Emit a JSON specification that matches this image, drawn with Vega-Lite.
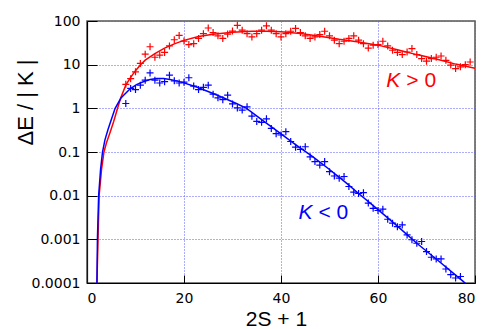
{
  "$schema": "https://vega.github.io/schema/vega-lite/v6.json",
  "autosize": "none",
  "width": 388,
  "height": 262,
  "padding": {"left": 87, "top": 21, "right": 10, "bottom": 46},
  "background": "white",
  "config": {"view": {"stroke": "#555", "strokeWidth": 1.5}},
  "datasets": {
    "curves": [
      {"x": 2, "y": 0.000001, "seg": "r"}, {"x": 2.05, "y": 0.0001, "seg": "r"}, {"x": 2.27, "y": 0.001, "seg": "r"}, {"x": 2.5, "y": 0.01, "seg": "r"}, {"x": 3, "y": 0.04, "seg": "r"}, {"x": 3.5, "y": 0.1, "seg": "r"}, {"x": 4, "y": 0.16, "seg": "r"}, {"x": 4.7, "y": 0.27, "seg": "r"}, {"x": 5.5, "y": 0.5, "seg": "r"}, {"x": 6.3, "y": 1.0, "seg": "r"}, {"x": 7, "y": 1.8, "seg": "r"}, {"x": 8, "y": 3.4, "seg": "r"}, {"x": 9, "y": 5.1, "seg": "r"}, {"x": 10, "y": 7.3, "seg": "r"}, {"x": 11, "y": 9.8, "seg": "r"}, {"x": 12, "y": 12.7, "seg": "r"}, {"x": 14, "y": 18, "seg": "r"}, {"x": 16, "y": 24, "seg": "r"}, {"x": 18, "y": 30, "seg": "r"}, {"x": 20, "y": 36, "seg": "r"}, {"x": 23, "y": 44, "seg": "r"}, {"x": 26, "y": 50, "seg": "r"}, {"x": 30, "y": 55, "seg": "r"}, {"x": 34, "y": 58, "seg": "r"}, {"x": 37, "y": 58.5, "seg": "r"}, {"x": 40, "y": 57, "seg": "r"}, {"x": 44, "y": 52, "seg": "r"}, {"x": 48, "y": 45, "seg": "r"}, {"x": 52, "y": 38, "seg": "r"}, {"x": 56, "y": 33, "seg": "r"}, {"x": 60, "y": 28, "seg": "r"}, {"x": 64, "y": 22, "seg": "r"}, {"x": 68, "y": 17, "seg": "r"}, {"x": 72, "y": 13.5, "seg": "r"}, {"x": 76, "y": 10.3, "seg": "r"}, {"x": 80, "y": 8.3, "seg": "r"},
      {"x": 2, "y": 0.000001, "seg": "b"}, {"x": 2.05, "y": 0.0001, "seg": "b"}, {"x": 2.15, "y": 0.001, "seg": "b"}, {"x": 2.4, "y": 0.01, "seg": "b"}, {"x": 2.8, "y": 0.04, "seg": "b"}, {"x": 3.2, "y": 0.1, "seg": "b"}, {"x": 3.7, "y": 0.19, "seg": "b"}, {"x": 4.3, "y": 0.32, "seg": "b"}, {"x": 5, "y": 0.55, "seg": "b"}, {"x": 5.8, "y": 1.0, "seg": "b"}, {"x": 7, "y": 1.72, "seg": "b"}, {"x": 8.9, "y": 2.8, "seg": "b"}, {"x": 10.2, "y": 3.5, "seg": "b"}, {"x": 11.6, "y": 4.07, "seg": "b"}, {"x": 13, "y": 4.55, "seg": "b"}, {"x": 14.4, "y": 4.8, "seg": "b"}, {"x": 15.8, "y": 4.8, "seg": "b"}, {"x": 17.1, "y": 4.6, "seg": "b"}, {"x": 19.5, "y": 3.98, "seg": "b"}, {"x": 22.6, "y": 3.09, "seg": "b"}, {"x": 26, "y": 2.19, "seg": "b"}, {"x": 28.1, "y": 1.75, "seg": "b"}, {"x": 30.8, "y": 1.29, "seg": "b"}, {"x": 32.9, "y": 1.0, "seg": "b"}, {"x": 36, "y": 0.55, "seg": "b"}, {"x": 39.8, "y": 0.27, "seg": "b"}, {"x": 43, "y": 0.148, "seg": "b"}, {"x": 46.6, "y": 0.0776, "seg": "b"}, {"x": 50, "y": 0.0398, "seg": "b"}, {"x": 53.5, "y": 0.0193, "seg": "b"}, {"x": 56, "y": 0.0112, "seg": "b"}, {"x": 60, "y": 0.00479, "seg": "b"}, {"x": 64, "y": 0.002, "seg": "b"}, {"x": 68, "y": 0.000813, "seg": "b"}, {"x": 72, "y": 0.000355, "seg": "b"}, {"x": 77.5, "y": 0.00011, "seg": "b"}, {"x": 80, "y": 0.000063, "seg": "b"},
      {"x": 0, "y": 0.0095, "seg": "b0"}, {"x": 0, "y": 0.000001, "seg": "b0"}
    ],
    "pts": [
      {"x": 8, "y": 3.55, "s": "pos"}, {"x": 9, "y": 4.79, "s": "pos"}, {"x": 10, "y": 6.84, "s": "pos"}, {"x": 11, "y": 10.7, "s": "pos"}, {"x": 12, "y": 17.4, "s": "pos"}, {"x": 13, "y": 25.7, "s": "pos"}, {"x": 14, "y": 14.8, "s": "pos"}, {"x": 15, "y": 16.6, "s": "pos"}, {"x": 16, "y": 19.1, "s": "pos"}, {"x": 17, "y": 26.9, "s": "pos"}, {"x": 18, "y": 37.2, "s": "pos"}, {"x": 19, "y": 46.8, "s": "pos"}, {"x": 20, "y": 34.7, "s": "pos"}, {"x": 21, "y": 28.8, "s": "pos"}, {"x": 22, "y": 30.2, "s": "pos"}, {"x": 23, "y": 39.8, "s": "pos"}, {"x": 24, "y": 51.3, "s": "pos"}, {"x": 25, "y": 69.2, "s": "pos"}, {"x": 26, "y": 54.3, "s": "pos"}, {"x": 27, "y": 45.7, "s": "pos"}, {"x": 28, "y": 39.8, "s": "pos"}, {"x": 29, "y": 50.1, "s": "pos"}, {"x": 30, "y": 58.9, "s": "pos"}, {"x": 31, "y": 79.4, "s": "pos"}, {"x": 32, "y": 61.7, "s": "pos"}, {"x": 33, "y": 51.3, "s": "pos"}, {"x": 34, "y": 43.2, "s": "pos"}, {"x": 35, "y": 51.3, "s": "pos"}, {"x": 36, "y": 61.7, "s": "pos"}, {"x": 37, "y": 77.6, "s": "pos"}, {"x": 38, "y": 61.7, "s": "pos"}, {"x": 39, "y": 51.3, "s": "pos"}, {"x": 40, "y": 43.2, "s": "pos"}, {"x": 41, "y": 51.3, "s": "pos"}, {"x": 42, "y": 58.2, "s": "pos"}, {"x": 43, "y": 67.6, "s": "pos"}, {"x": 44, "y": 54.3, "s": "pos"}, {"x": 45, "y": 45.7, "s": "pos"}, {"x": 46, "y": 39.8, "s": "pos"}, {"x": 47, "y": 43.2, "s": "pos"}, {"x": 48, "y": 49.0, "s": "pos"}, {"x": 49, "y": 58.2, "s": "pos"}, {"x": 50, "y": 45.7, "s": "pos"}, {"x": 51, "y": 36.3, "s": "pos"}, {"x": 52, "y": 30.2, "s": "pos"}, {"x": 53, "y": 34.4, "s": "pos"}, {"x": 54, "y": 39.8, "s": "pos"}, {"x": 55, "y": 45.7, "s": "pos"}, {"x": 56, "y": 36.3, "s": "pos"}, {"x": 57, "y": 30.2, "s": "pos"}, {"x": 58, "y": 24.0, "s": "pos"}, {"x": 59, "y": 27.9, "s": "pos"}, {"x": 60, "y": 28.8, "s": "pos"}, {"x": 61, "y": 34.4, "s": "pos"}, {"x": 62, "y": 26.9, "s": "pos"}, {"x": 63, "y": 21.4, "s": "pos"}, {"x": 64, "y": 19.1, "s": "pos"}, {"x": 65, "y": 17.0, "s": "pos"}, {"x": 66, "y": 19.5, "s": "pos"}, {"x": 67, "y": 23.4, "s": "pos"}, {"x": 68, "y": 17.0, "s": "pos"}, {"x": 69, "y": 13.8, "s": "pos"}, {"x": 70, "y": 12.0, "s": "pos"}, {"x": 71, "y": 13.8, "s": "pos"}, {"x": 72, "y": 14.8, "s": "pos"}, {"x": 73, "y": 15.8, "s": "pos"}, {"x": 74, "y": 12.6, "s": "pos"}, {"x": 75, "y": 9.77, "s": "pos"}, {"x": 76, "y": 8.13, "s": "pos"}, {"x": 77, "y": 8.91, "s": "pos"}, {"x": 78, "y": 10.0, "s": "pos"}, {"x": 79, "y": 11.5, "s": "pos"},
      {"x": 8, "y": 1.29, "s": "neg"}, {"x": 9, "y": 2.85, "s": "neg"}, {"x": 10, "y": 2.69, "s": "neg"}, {"x": 11, "y": 3.39, "s": "neg"}, {"x": 12, "y": 4.42, "s": "neg"}, {"x": 13, "y": 6.46, "s": "neg"}, {"x": 14, "y": 4.42, "s": "neg"}, {"x": 15, "y": 3.80, "s": "neg"}, {"x": 16, "y": 4.07, "s": "neg"}, {"x": 17, "y": 5.75, "s": "neg"}, {"x": 18, "y": 4.27, "s": "neg"}, {"x": 19, "y": 3.80, "s": "neg"}, {"x": 20, "y": 3.98, "s": "neg"}, {"x": 21, "y": 5.01, "s": "neg"}, {"x": 22, "y": 3.24, "s": "neg"}, {"x": 23, "y": 2.69, "s": "neg"}, {"x": 24, "y": 3.02, "s": "neg"}, {"x": 25, "y": 3.39, "s": "neg"}, {"x": 26, "y": 2.11, "s": "neg"}, {"x": 27, "y": 1.74, "s": "neg"}, {"x": 28, "y": 1.58, "s": "neg"}, {"x": 29, "y": 2.0, "s": "neg"}, {"x": 30, "y": 1.26, "s": "neg"}, {"x": 31, "y": 1.02, "s": "neg"}, {"x": 32, "y": 0.912, "s": "neg"}, {"x": 33, "y": 1.08, "s": "neg"}, {"x": 34, "y": 0.661, "s": "neg"}, {"x": 35, "y": 0.501, "s": "neg"}, {"x": 36, "y": 0.479, "s": "neg"}, {"x": 37, "y": 0.575, "s": "neg"}, {"x": 38, "y": 0.347, "s": "neg"}, {"x": 39, "y": 0.263, "s": "neg"}, {"x": 40, "y": 0.245, "s": "neg"}, {"x": 41, "y": 0.292, "s": "neg"}, {"x": 42, "y": 0.174, "s": "neg"}, {"x": 43, "y": 0.129, "s": "neg"}, {"x": 44, "y": 0.115, "s": "neg"}, {"x": 45, "y": 0.132, "s": "neg"}, {"x": 46, "y": 0.0776, "s": "neg"}, {"x": 47, "y": 0.0603, "s": "neg"}, {"x": 48, "y": 0.0501, "s": "neg"}, {"x": 49, "y": 0.0603, "s": "neg"}, {"x": 50, "y": 0.0355, "s": "neg"}, {"x": 51, "y": 0.0282, "s": "neg"}, {"x": 52, "y": 0.0251, "s": "neg"}, {"x": 53, "y": 0.0275, "s": "neg"}, {"x": 54, "y": 0.0162, "s": "neg"}, {"x": 55, "y": 0.0120, "s": "neg"}, {"x": 56, "y": 0.0112, "s": "neg"}, {"x": 57, "y": 0.0117, "s": "neg"}, {"x": 58, "y": 0.00676, "s": "neg"}, {"x": 59, "y": 0.00513, "s": "neg"}, {"x": 60, "y": 0.00457, "s": "neg"}, {"x": 61, "y": 0.00490, "s": "neg"}, {"x": 62, "y": 0.00288, "s": "neg"}, {"x": 63, "y": 0.00234, "s": "neg"}, {"x": 64, "y": 0.00195, "s": "neg"}, {"x": 65, "y": 0.00214, "s": "neg"}, {"x": 66, "y": 0.00126, "s": "neg"}, {"x": 67, "y": 0.000977, "s": "neg"}, {"x": 68, "y": 0.000813, "s": "neg"}, {"x": 69, "y": 0.000891, "s": "neg"}, {"x": 70, "y": 0.000525, "s": "neg"}, {"x": 71, "y": 0.000389, "s": "neg"}, {"x": 72, "y": 0.000355, "s": "neg"}, {"x": 73, "y": 0.000355, "s": "neg"}, {"x": 74, "y": 0.000209, "s": "neg"}, {"x": 75, "y": 0.000155, "s": "neg"}, {"x": 76, "y": 0.000130, "s": "neg"}, {"x": 77, "y": 0.000141, "s": "neg"}
    ],
    "labels": [
      {"x": 64.6, "y": 3.05, "txt": "K", "kind": "it", "s": "pos"},
      {"x": 64.6, "y": 3.05, "txt": "> 0", "kind": "rm", "s": "pos"},
      {"x": 46.5, "y": 0.00292, "txt": "K", "kind": "it", "s": "neg"},
      {"x": 46.5, "y": 0.00292, "txt": "< 0", "kind": "rm", "s": "neg"}
    ]
  },
  "encoding": {
    "x": {
      "field": "x", "type": "quantitative",
      "scale": {"domain": [0, 80], "nice": false, "zero": false},
      "axis": {
        "values": [0, 20, 40, 60, 80], "title": "2S + 1",
        "titleFont": "Liberation Sans", "titleFontSize": 21, "titleFontWeight": "normal", "titleColor": "#000",
        "titleX": 189, "titleY": 42, "titleBaseline": "alphabetic",
        "labelFont": "DejaVu Sans", "labelFontSize": 14, "labelColor": "#000", "labelPadding": 16,
        "tickSize": -8, "tickColor": "#000", "domainColor": "#000", "domainWidth": 1.2,
        "grid": true, "gridColor": "#5b5bff", "gridDash": [1, 2], "gridWidth": 1
      }
    },
    "y": {
      "field": "y", "type": "quantitative",
      "scale": {"type": "log", "domain": [0.0001, 100], "nice": false},
      "axis": {
        "values": [0.0001, 0.001, 0.01, 0.1, 1, 10, 100], "format": "~g",
        "title": "ΔE / | K |",
        "titleFont": "Liberation Sans", "titleFontSize": 22, "titleFontWeight": "normal", "titleColor": "#000",
        "titleX": -55, "titleY": 81, "titleAngle": -90, "titleAlign": "center", "titleBaseline": "alphabetic",
        "labelFont": "DejaVu Sans", "labelFontSize": 14, "labelColor": "#000", "labelPadding": 17,
        "tickSize": -10, "tickColor": "#000", "domainColor": "#000", "domainWidth": 1.2,
        "grid": true, "gridColor": "#5b5bff", "gridDash": [1, 2], "gridWidth": 1
      }
    }
  },
  "layer": [
    {
      "data": {"name": "curves"},
      "transform": [{"filter": "datum.seg === 'r'"}],
      "mark": {"type": "line", "color": "#ff0000", "strokeWidth": 1.5, "clip": true},
      "encoding": {"detail": {"field": "seg"}}
    },
    {
      "data": {"name": "curves"},
      "transform": [{"filter": "datum.seg !== 'r'"}],
      "mark": {"type": "line", "color": "#0000ff", "strokeWidth": 1.5, "clip": true},
      "encoding": {"detail": {"field": "seg"}}
    },
    {
      "data": {"name": "pts"},
      "transform": [{"filter": "datum.s === 'pos'"}],
      "mark": {"type": "point", "shape": "M-1,0H1M0,-1V1", "size": 49, "filled": false, "color": "#ff0000", "strokeWidth": 1.2, "opacity": 1, "clip": true}
    },
    {
      "data": {"name": "pts"},
      "transform": [{"filter": "datum.s === 'neg'"}],
      "mark": {"type": "point", "shape": "M-1,0H1M0,-1V1", "size": 49, "filled": false, "color": "#0000ff", "strokeWidth": 1.2, "opacity": 1, "clip": true}
    },
    {
      "data": {"name": "labels"},
      "transform": [{"filter": "datum.kind === 'it'"}],
      "mark": {"type": "text", "font": "Liberation Sans", "fontSize": 21, "fontStyle": "italic", "align": "right", "baseline": "alphabetic"},
      "encoding": {
        "text": {"field": "txt"},
        "color": {"field": "s", "type": "nominal", "scale": {"domain": ["pos", "neg"], "range": ["#ff0000", "#0000ff"]}, "legend": null}
      }
    },
    {
      "data": {"name": "labels"},
      "transform": [{"filter": "datum.kind === 'rm'"}],
      "mark": {"type": "text", "font": "Liberation Sans", "fontSize": 21, "align": "left", "baseline": "alphabetic", "dx": 6},
      "encoding": {
        "text": {"field": "txt"},
        "color": {"field": "s", "type": "nominal", "scale": {"domain": ["pos", "neg"], "range": ["#ff0000", "#0000ff"]}, "legend": null}
      }
    }
  ]
}
